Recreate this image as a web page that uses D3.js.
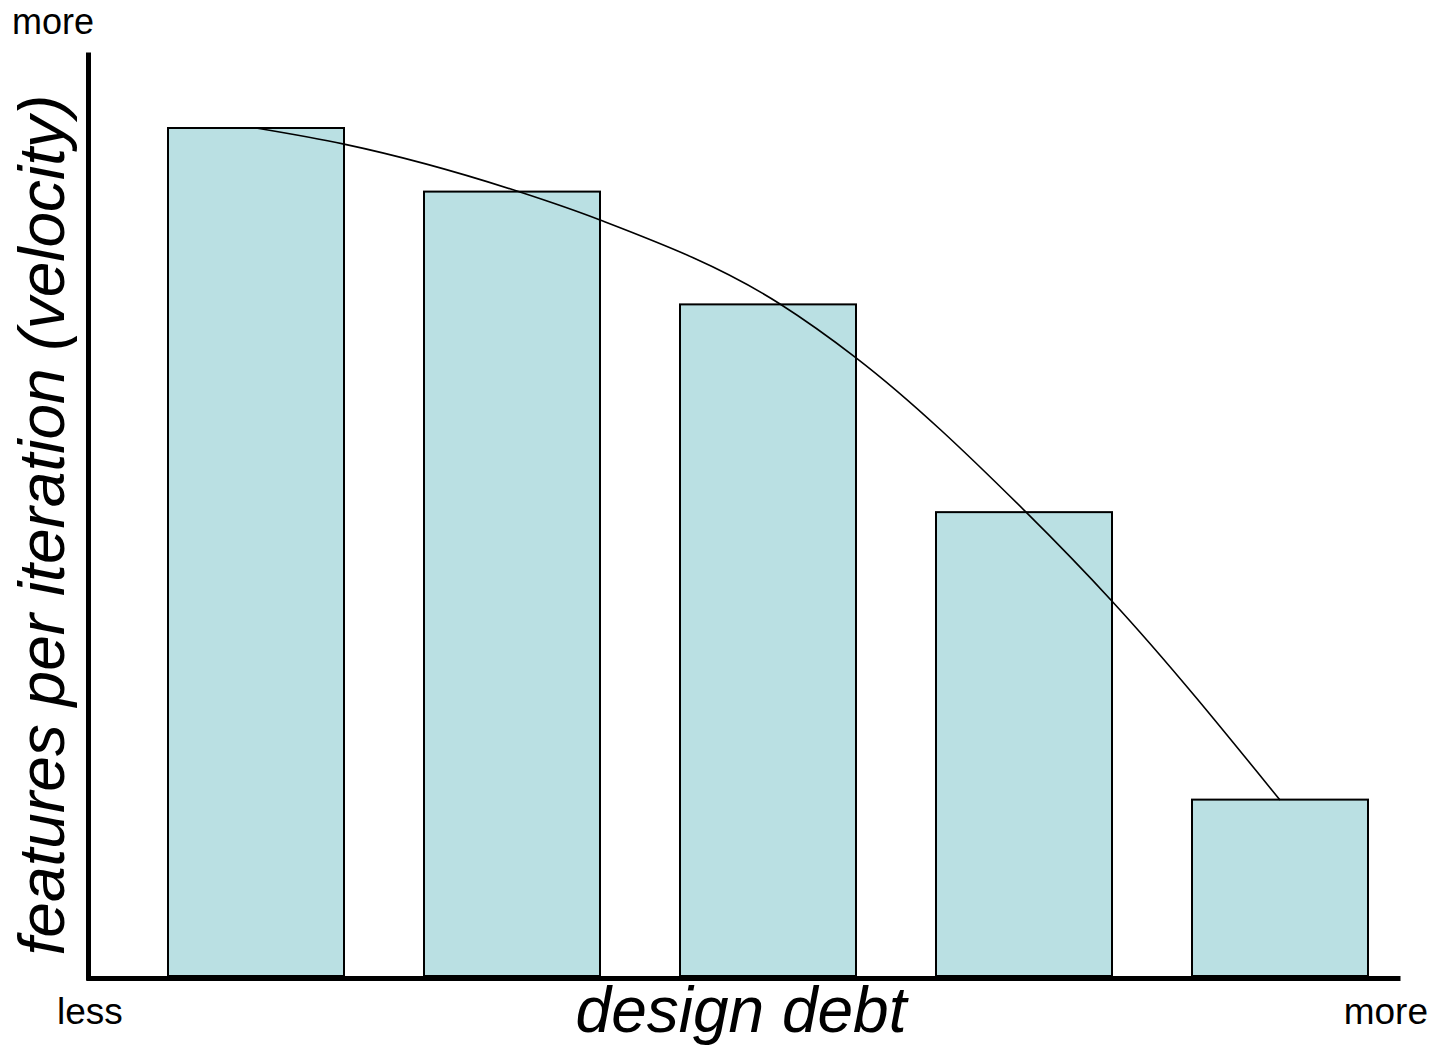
<!DOCTYPE html>
<html>
<head>
<meta charset="utf-8">
<script src="https://cdn.jsdelivr.net/npm/d3@7"></script>
<style>
  html, body { margin: 0; padding: 0; background: #fff; }
  svg text { font-family: "Liberation Sans", Arial, Helvetica, sans-serif; fill: #000; }
</style>
</head>
<body>
<svg id="chart" width="1433" height="1050"></svg>
<script>
// ---- data ----
const categories = ["1", "2", "3", "4", "5"];
const velocity = [100, 92.5, 79.2, 54.7, 20.8];
// hand-drawn trend curve: position along the debt axis (0..5) and velocity value
const curveX = [0.5, 0.844, 1.531, 1.844, 2.547, 2.844, 3.508, 3.844, 4.5];
const curveY = [100, 98.1, 92.45, 89.15, 79.25, 72.9, 54.7, 44.2, 20.75];
const xEndLabels = ["less", "more"];
const yEndLabel = "more";
const xTitle = "design debt";
const yTitle = "features per iteration (velocity)";

// ---- layout ----
const svg = d3.select("#chart");
const x = d3.scaleBand().domain(categories).range([128, 1408])
  .paddingInner(0.3125).paddingOuter(0.15625);
const xPos = d3.scaleLinear().domain([0, 5]).range([128, 1408]);
const y = d3.scaleLinear().domain([0, 100]).range([976, 128]);

// bars
svg.append("g").selectAll("rect").data(velocity).join("rect")
  .attr("x", (d, i) => x(categories[i]))
  .attr("y", d => y(d))
  .attr("width", x.bandwidth())
  .attr("height", d => y(0) - y(d))
  .attr("fill", "#BAE0E3")
  .attr("stroke", "#000")
  .attr("stroke-width", 2);

// trend curve
const pts = curveX.map((v, i) => [v, curveY[i]]);
svg.append("path")
  .datum(pts)
  .attr("fill", "none")
  .attr("stroke", "#000")
  .attr("stroke-width", 1.6)
  .attr("d", d3.line().x(d => xPos(d[0])).y(d => y(d[1])).curve(d3.curveMonotoneX));

// axes (no ticks)
const xAxisScale = d3.scaleLinear().domain([0, 1]).range([86, 1400]);
const yAxisScale = d3.scaleLinear().domain([0, 1]).range([980, 52]);
const gx = svg.append("g").attr("transform", "translate(0,978)")
  .call(d3.axisBottom(xAxisScale).tickValues([]).tickSizeOuter(0));
const gy = svg.append("g").attr("transform", "translate(88,0)")
  .call(d3.axisLeft(yAxisScale).tickValues([]).tickSizeOuter(0));
[gx, gy].forEach(g => g.select(".domain").attr("stroke", "#000").attr("stroke-width", 5));

// end labels
svg.append("text").attr("x", 12).attr("y", 33.5).attr("font-size", 36).text(yEndLabel);
svg.append("text").attr("x", 57).attr("y", 1024).attr("font-size", 37).text(xEndLabels[0]);
svg.append("text").attr("x", 1428).attr("y", 1024).attr("font-size", 37)
  .attr("text-anchor", "end").text(xEndLabels[1]);

// titles
svg.append("text").attr("x", 741).attr("y", 1032).attr("font-size", 64)
  .attr("font-style", "italic").attr("text-anchor", "middle").text(xTitle);
svg.append("text").attr("transform", "translate(64,525) rotate(-90)")
  .attr("font-size", 64).attr("font-style", "italic").attr("text-anchor", "middle").text(yTitle);
</script>
</body>
</html>
